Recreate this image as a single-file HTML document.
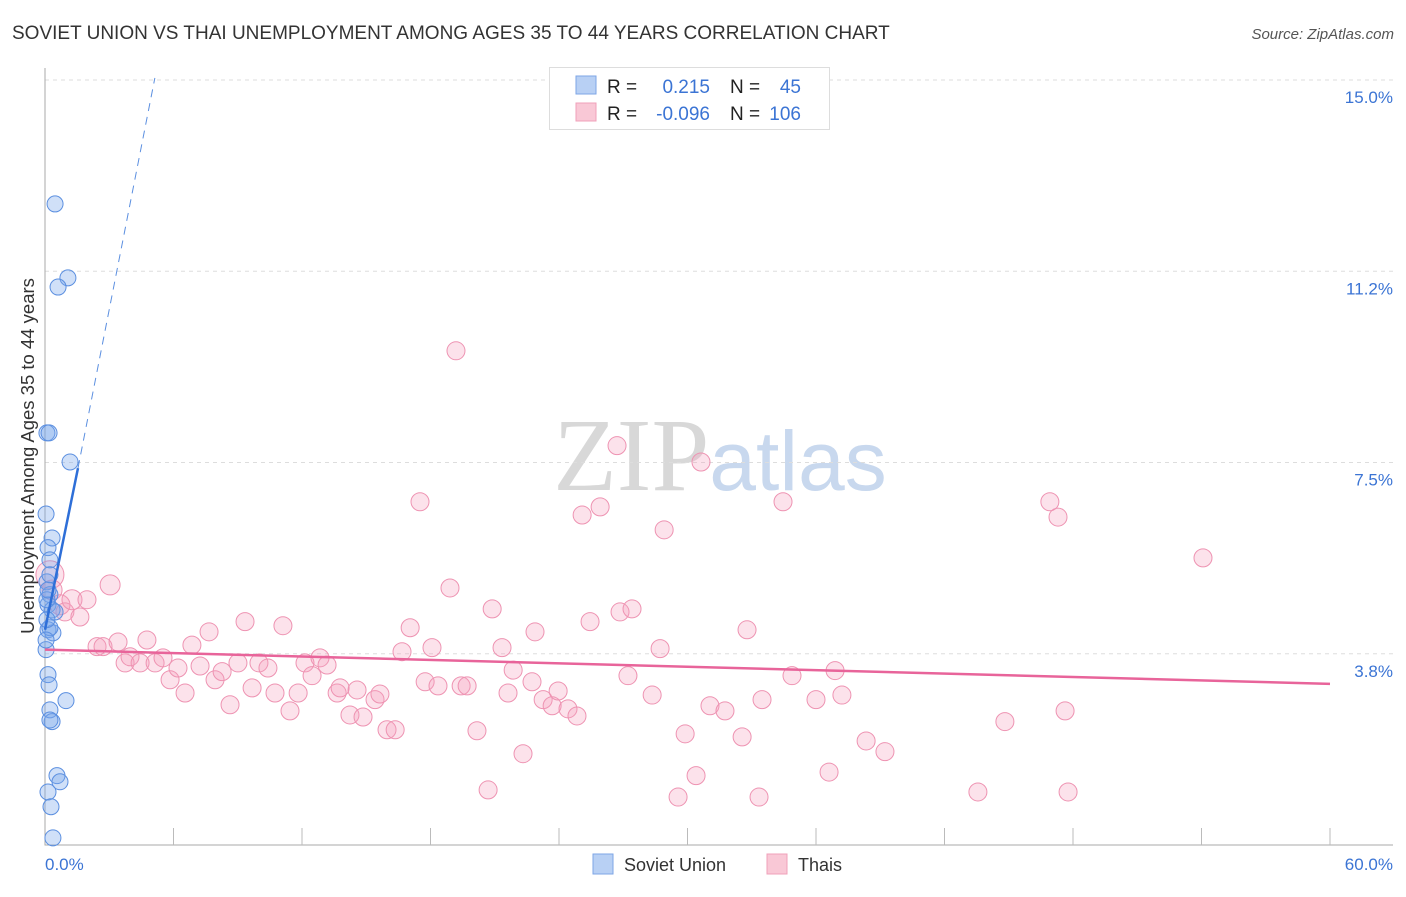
<!DOCTYPE html>
<html><head><meta charset="utf-8"><style>
body{margin:0;background:#fff;font-family:"Liberation Sans",sans-serif}
svg text{font-family:"Liberation Sans",sans-serif}
</style></head><body>
<svg id="chart" width="1406" height="892" xmlns="http://www.w3.org/2000/svg">
<text x="12" y="39" font-size="19" fill="#333">SOVIET UNION VS THAI UNEMPLOYMENT AMONG AGES 35 TO 44 YEARS CORRELATION CHART</text>
<text x="1394" y="39" font-size="15" fill="#555" text-anchor="end" font-style="italic">Source: ZipAtlas.com</text>
<text x="720" y="490" font-size="104" text-anchor="middle"><tspan fill="#d8d8d8" font-family="Liberation Serif">ZIP</tspan><tspan fill="#c8d8ee" font-size="84">atlas</tspan></text>
<g id="grid"></g>
<g id="axes"></g>
<g id="pts"></g>
<g id="trends"></g>
<text transform="translate(34,456) rotate(-90)" font-size="18.5" fill="#333" text-anchor="middle">Unemployment Among Ages 35 to 44 years</text>
<text x="45" y="870" font-size="17" fill="#3b74d4">0.0%</text>
<text x="1393" y="870" font-size="17" fill="#3b74d4" text-anchor="end">60.0%</text>
<g>
<rect x="549.5" y="67.5" width="280" height="62" fill="#fff" stroke="#ddd"/>
<rect x="576" y="76" width="20" height="18" fill="#b8d0f4" stroke="#7ea6e6"/>
<rect x="576" y="103" width="20" height="18" fill="#f9c8d6" stroke="#f0a0ba"/>
<text x="607" y="93" font-size="19" fill="#222">R =</text>
<text x="710" y="93" font-size="19" fill="#3b74d4" text-anchor="end">0.215</text>
<text x="730" y="93" font-size="19" fill="#222">N =</text>
<text x="801" y="93" font-size="19" fill="#3b74d4" text-anchor="end">45</text>
<text x="607" y="120" font-size="19" fill="#222">R =</text>
<text x="710" y="120" font-size="19" fill="#3b74d4" text-anchor="end">-0.096</text>
<text x="730" y="120" font-size="19" fill="#222">N =</text>
<text x="801" y="120" font-size="19" fill="#3b74d4" text-anchor="end">106</text>
</g>
<g>
<rect x="593" y="854" width="20" height="20" fill="#b8d0f4" stroke="#7ea6e6"/>
<text x="624" y="871" font-size="18" fill="#333">Soviet Union</text>
<rect x="767" y="854" width="20" height="20" fill="#f9c8d6" stroke="#f0a0ba"/>
<text x="798" y="871" font-size="18" fill="#333">Thais</text>
</g>
</svg>
<script>
const yTicks=[3.75,7.5,11.25,15];
const yTickLabels=["3.8%","7.5%","11.2%","15.0%"];
const xTicks=[6,12,18,24,30,36,42,48,54,60];
const sovietX=[0.47,1.07,0.61,0.09,0.19,1.17,0.05,0.33,0.14,0.23,0.09,0.23,0.14,0.33,0.47,0.14,0.37,0.23,0.05,0.14,0.19,0.98,0.23,0.33,0.23,0.14,0.56,0.70,0.28,0.37,0.09,0.14,0.23,0.09,0.05];
const sovietY=[12.57,11.12,10.94,8.08,8.08,7.51,6.49,6.02,5.83,5.59,5.16,4.91,4.71,4.61,4.57,4.22,4.16,4.26,3.83,3.34,3.14,2.83,2.65,2.42,2.45,1.04,1.36,1.24,0.75,0.14,4.81,5.0,5.3,4.42,4.02];
const thaiX=[0.23,0.33,0.70,0.93,1.26,1.63,1.96,3.04,2.43,2.71,3.41,3.74,3.97,4.44,4.76,5.14,5.51,5.84,6.21,6.54,6.86,7.24,7.66,7.94,8.27,8.64,9.01,9.34,9.67,9.99,10.41,10.74,11.11,11.44,11.82,12.14,12.47,12.84,13.17,13.64,13.78,14.24,14.57,14.85,15.41,15.64,15.97,16.35,16.67,17.05,17.51,17.75,18.07,18.35,18.91,19.43,19.71,19.19,20.17,20.69,20.88,21.34,21.62,21.86,22.32,22.74,22.88,23.26,23.68,23.96,24.42,24.84,25.08,25.45,25.92,26.71,26.85,27.22,27.41,28.35,28.72,28.91,29.56,29.89,30.40,30.63,31.05,31.75,32.55,32.78,33.34,33.48,34.46,34.88,36.00,36.61,36.89,37.21,38.34,39.22,43.56,44.82,46.92,47.30,47.63,47.77,54.07];
const thaiY=[5.30,5.00,4.71,4.57,4.81,4.47,4.81,5.10,3.89,3.89,3.98,3.57,3.69,3.57,4.02,3.57,3.67,3.24,3.47,2.98,3.92,3.51,4.18,3.24,3.40,2.75,3.57,4.38,3.08,3.57,3.47,2.98,4.30,2.63,2.98,3.57,3.32,3.67,3.53,2.98,3.08,2.55,3.04,2.51,2.85,2.96,2.26,2.26,3.79,4.26,6.73,3.20,3.87,3.12,5.04,3.12,3.12,9.69,2.24,1.08,4.63,3.87,2.98,3.43,1.79,3.20,4.18,2.85,2.73,3.02,2.67,2.53,6.47,4.38,6.63,7.83,4.57,3.32,4.63,2.94,3.85,6.18,0.94,2.18,1.36,7.51,2.73,2.63,2.12,4.22,0.94,2.85,6.73,3.32,2.85,1.43,3.42,2.94,2.04,1.83,1.04,2.42,6.73,6.43,2.63,1.04,5.63];
const thaiSize=[14,10,10,9,10,9,9,10,9,9,9,9,9,9,9,9,9,9,9,9,9,9,9,9,9,9,9,9,9,9,9,9,9,9,9,9,9,9,9,9,9,9,9,9,9,9,9,9,9,9,9,9,9,9,9,9,9,9,9,9,9,9,9,9,9,9,9,9,9,9,9,9,9,9,9,9,9,9,9,9,9,9,9,9,9,9,9,9,9,9,9,9,9,9,9,9,9,9,9,9,9,9,9,9,9,9,9];
const sovietTrend=[[0,4.22],[1.54,7.39]];
const sovietDash=[[1.54,7.39],[5.13,15.04]];
const thaiTrend=[[0,3.83],[60,3.16]];
const NS="http://www.w3.org/2000/svg";
const xs=v=>45+v*1285/60, ys=v=>845-v*51;
function mk(tag,attrs,parent){const e=document.createElementNS(NS,tag);for(const k in attrs)e.setAttribute(k,attrs[k]);document.getElementById(parent).appendChild(e);return e;}
yTicks.forEach((t,i)=>{
 const l=mk('line',{x1:45,x2:1393,y1:ys(t),y2:ys(t),stroke:'#ddd','stroke-dasharray':'4,4'},'grid');
 
 
 const tx=mk('text',{x:1393,y:ys(t)+23,'font-size':17,fill:'#3b74d4','text-anchor':'end'},'grid');
 tx.textContent=yTickLabels[i];
 
 
});
const ax=mk('path',{d:'M45,68V845H1393',fill:'none',stroke:'#aaa'},'axes');


xTicks.forEach(t=>{
 const l=mk('line',{x1:xs(t),x2:xs(t),y1:845,y2:828,stroke:'#bbb'},'axes');
 
 
});
thaiX.forEach((x,i)=>{
 const c=mk('circle',{cx:xs(x),cy:ys(thaiY[i]),r:thaiSize[i],fill:'rgba(244,160,188,0.3)',stroke:'#ee93b2','stroke-width':1},'pts');
 
 
});
sovietX.forEach((x,i)=>{
 const c=mk('circle',{cx:xs(x),cy:ys(sovietY[i]),r:8,fill:'rgba(120,165,235,0.35)',stroke:'#5b8fe0','stroke-width':1},'pts');
 
 
});
const l1=mk('line',{x1:xs(thaiTrend[0][0]),y1:ys(thaiTrend[0][1]),x2:xs(thaiTrend[1][0]),y2:ys(thaiTrend[1][1]),stroke:'#e8649a','stroke-width':2.5},'trends');


const l2=mk('line',{x1:xs(sovietTrend[0][0]),y1:ys(sovietTrend[0][1]),x2:xs(sovietTrend[1][0]),y2:ys(sovietTrend[1][1]),stroke:'#2e6fd8','stroke-width':2.5},'trends');


const l3=mk('line',{x1:xs(sovietDash[0][0]),y1:ys(sovietDash[0][1]),x2:xs(sovietDash[1][0]),y2:ys(sovietDash[1][1]),stroke:'#5b8fe0','stroke-width':1,'stroke-dasharray':'8,6'},'trends');


</script>
</body></html>
